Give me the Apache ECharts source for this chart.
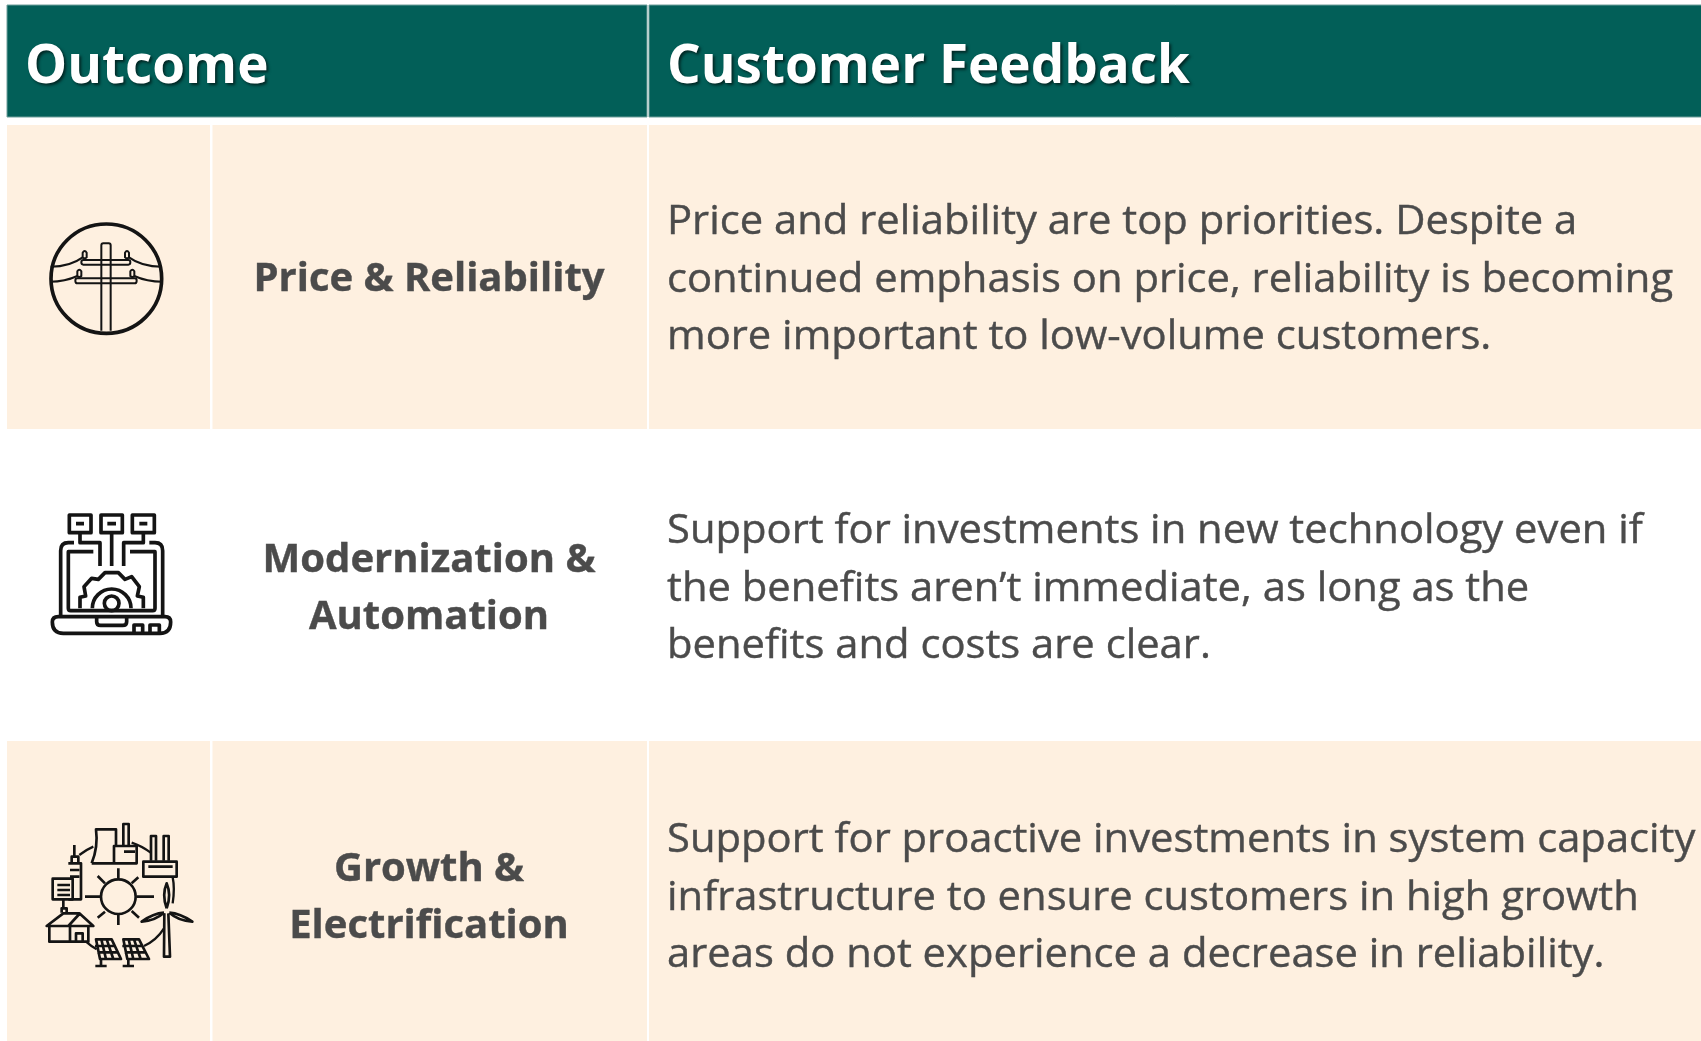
<!DOCTYPE html>
<html>
<head>
<meta charset="utf-8">
<style>
  html, body { margin: 0; padding: 0; background: #fff; }
  #main { width: 1701px; height: 1041px; }
</style>
</head>
<body>
<div id="main"></div>
<script src="https://cdn.jsdelivr.net/npm/echarts@6/dist/echarts.min.js"></script>
<script>
var headers = ['Outcome', 'Customer Feedback'];
var outcomes = ['Price & Reliability', 'Modernization &\nAutomation', 'Growth &\nElectrification'];
var feedback = [
  'Price and reliability are top priorities. Despite a\ncontinued emphasis on price, reliability is becoming\nmore important to low-volume customers.',
  'Support for investments in new technology even if\nthe benefits aren\u2019t immediate, as long as the\nbenefits and costs are clear.',
  'Support for proactive investments in system capacity\ninfrastructure to ensure customers in high growth\nareas do not experience a decrease in reliability.'
];

var FONT = '"Open Sans", sans-serif';
var TEAL = '#025f58';
var CREAM = '#fef0e0';
var TEXT = '#4b4b4b';

// icons are traced in the coordinates of a 3x crop, so scale 1/3
var poleIcon = {
  x: 20, y: 200,
  strokes: [
    [11, 'M425 236A166 164 0 1 1 93 236A166 164 0 1 1 425 236Z'],
    [6, 'M244 392V136Q244 130 250 130H266Q272 130 272 136V392'],
    [6, 'M190 180H325Q331 180 331 187Q331 194 325 194H190Q184 194 184 187Q184 180 190 180Z'],
    [6, 'M172 235H344Q350 235 350 242Q350 250 344 250H172Q166 250 166 242Q166 235 172 235Z'],
    [6, 'M188 172V158Q194 148 200 158V172Q194 178 188 172Z'],
    [6, 'M315 172V158Q321 148 327 158V172Q321 178 315 172Z'],
    [6, 'M172 228V214Q178 204 184 214V228Q178 234 172 228Z'],
    [6, 'M331 228V214Q337 204 343 214V228Q337 234 331 228Z'],
    [6, 'M188 172Q150 200 92 200M327 172Q365 200 425 200M172 228Q135 245 90 245M343 228Q380 245 428 245']
  ]
};
var laptopIcon = {
  x: 20, y: 490,
  strokes: [
    [11, 'M148 75H213V128H148ZM243 75H307V128H243ZM337 75H403V128H337Z'],
    [11, 'M168 101H192M262 101H288M358 101H382'],
    [11, 'M180 128V158H240V228M275 128V228M370 128V158H311V228'],
    [11, 'M162 158H145Q122 158 122 182V378M388 158H405Q428 158 428 182V378'],
    [11, 'M220 185H145V355Q145 362 152 362H398Q405 362 405 355V185H330'],
    [11, 'M115 380H435Q452 380 452 396Q452 430 420 430H130Q97 430 97 396Q97 380 115 380Z'],
    [11, 'M230 382V395Q230 406 242 406H308Q320 406 320 395V382'],
    [11, 'M342 430V405H368V430M390 430V405H418V430'],
    [11, 'M180 355V322L197 318L192 290L215 265L235 268L255 248H295L315 268L335 260L358 290L352 318L370 322V355'],
    [11, 'M217 355A58 58 0 0 1 333 355'],
    [11, 'M297 340A22 22 0 1 1 253 340A22 22 0 1 1 297 340Z']
  ]
};
var gridIcon = {
  x: 20, y: 800,
  strokes: [
    [8, 'M215 190Q235 140 228 88H288V135M215 190H350V138H282V190'],
    [8, 'M310 135V72H326V135M312 155H345'],
    [8, 'M370 185H470V230H370ZM385 200H458'],
    [8, 'M393 182V108H408V182M431 182V108H446V182'],
    [7, 'M178 165Q197 150 220 140M335 128Q365 138 392 158M458 232Q465 265 458 310M432 385Q410 420 372 438M198 425Q215 440 230 448'],
    [8, 'M347 290A52 52 0 1 1 243 290A52 52 0 1 1 347 290Z'],
    [8, 'M295 205V235M295 345V375M195 290H240M350 290H402M233 228L255 250M355 232L335 250M233 353L255 335M357 353L335 333'],
    [8, 'M145 298H183V190H145M155 190V170H175V190M163 170V135M150 210H178M150 230H178'],
    [8, 'M98 236H158V298H98ZM112 255H150M112 270H150M112 285H150'],
    [8, 'M130 298V325M125 338V325H140V338'],
    [8, 'M80 378L130 340H178L220 378ZM145 378L178 342M88 378V425H205V378M150 378V425M168 425V400H188V425'],
    [8, 'M228 418H275L303 477H240ZM225 438H285M232 457H294M244 418L258 477M260 418L280 477'],
    [8, 'M243 477V497M226 498H260'],
    [8, 'M310 418H357L387 477H322ZM307 438H367M314 457H377M326 418L340 477M342 418L362 477'],
    [8, 'M325 477V497M308 498H342'],
    [8, 'M433 340L432 470H450L445 340'],
    [8, 'M440 325Q425 285 440 250Q455 285 440 325M432 338Q400 340 365 365Q405 362 432 338M448 338Q480 340 517 365Q475 362 448 338']
  ]
};
var icons = [poleIcon, laptopIcon, gridIcon];

function cell(x, y, w, h, fill, edge) {
  return {
    type: 'rect', shape: { x: x, y: y, width: w, height: h },
    style: { fill: fill, stroke: edge || null, lineWidth: edge ? 1 : 0 }
  };
}

function label(str, x, y, size, weight, color, align, lineHeight, stretch, shadow) {
  return {
    type: 'text', x: x, y: y, scaleX: stretch,
    style: {
      text: str, fontFamily: FONT, fontSize: size, fontWeight: weight, fill: color,
      align: align, verticalAlign: 'middle', lineHeight: lineHeight,
      stroke: shadow ? null : color, lineWidth: shadow ? 0 : 0.4,
      textShadowColor: shadow ? 'rgba(0,0,0,0.6)' : 'transparent',
      textShadowBlur: shadow ? 3 : 0, textShadowOffsetX: shadow ? 2 : 0, textShadowOffsetY: shadow ? 2 : 0
    }
  };
}

var elements = [
  cell(7, 5, 640, 112, TEAL, '#6f9f9b'),
  cell(649, 5, 1053, 112, TEAL, '#6f9f9b'),
  cell(7, 125, 203, 304, CREAM),
  cell(212.5, 125, 434.5, 304, CREAM),
  cell(649, 125, 1052, 304, CREAM),
  cell(7, 741, 203, 300, CREAM),
  cell(212.5, 741, 434.5, 300, CREAM),
  cell(649, 741, 1052, 300, CREAM),
  label(headers[0], 25, 68, 53, 700, '#fff', 'left', 60, 1, true),
  label(headers[1], 667, 68, 53, 700, '#fff', 'left', 60, 1, true)
];

var rowCenters = [278, 587, 896];
outcomes.forEach(function (t, i) {
  elements.push(label(t, 429, rowCenters[i] + 2, 40, 700, TEXT, 'center', 57.5, 1, false));
});
feedback.forEach(function (t, i) {
  elements.push(label(t, 667, rowCenters[i] + 2.5, 39.5, 400, TEXT, 'left', 57.5, 1.057, false));
});

function renderIcon(params) {
  var icon = icons[params.dataIndex];
  return {
    type: 'group',
    x: icon.x, y: icon.y, scaleX: 1 / 3, scaleY: 1 / 3,
    children: icon.strokes.map(function (s) {
      return {
        type: 'path',
        shape: { pathData: s[1] },
        style: { fill: 'none', stroke: '#141414', lineWidth: s[0], lineJoin: 'round' }
      };
    })
  };
}

var chart = echarts.init(document.getElementById('main'));
chart.setOption({
  animation: false,
  backgroundColor: '#fff',
  graphic: { elements: elements },
  series: [{
    type: 'custom',
    coordinateSystem: 'none',
    silent: true,
    data: outcomes,
    renderItem: renderIcon
  }]
});
</script>
</body>
</html>
